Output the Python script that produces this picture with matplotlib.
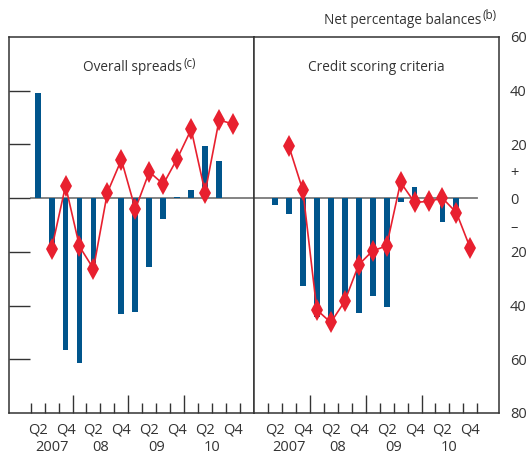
import numpy as np
import matplotlib
matplotlib.use("Agg")
import matplotlib.pyplot as plt
from matplotlib.ticker import FixedLocator

plt.rcParams['font.family'] = ['Open Sans', 'DejaVu Sans']

# Quarters Q2 2007 .. Q4 2010
quarters = ['Q2', 'Q3', 'Q4', 'Q1', 'Q2', 'Q3', 'Q4', 'Q1', 'Q2', 'Q3', 'Q4',
            'Q1', 'Q2', 'Q3', 'Q4']
years = ['2007', '08', '09', '10']
year_centres = [1, 4.5, 8.5, 12.5]

# Overall spreads
spreads_bars = [39, -17, -56.5, -61.5, -24, 0, -43, -42.5, -25.5, -7.7, 0.4,
                3, 19.5, 13.7, np.nan]
spreads_line = [np.nan, -19, 4.6, -18, -26.3, 2.1, 14.3, -4.1, 9.8, 5.2, 14.7,
                25.6, 2.1, 29.1, 27.6]

# Credit scoring criteria
scoring_bars = [-2.5, -5.9, -32.6, -44.4, -47.5, -37.5, -42.6, -36.3, -40.7,
                -1.5, 4, 0, -8.9, -7.4, np.nan]
scoring_line = [np.nan, 19.3, 2.9, -41.6, -46.3, -38.4, -24.8, -19.6, -17.8,
                5.9, -1.6, -1.2, 0, -5.4, -18.7]

BLUE = '#00558c'
RED = '#e8202f'
DARK = '#333333'
GREY = '#7a7a7a'
FS = 10.5
TFS = 9.8


def sup_text(ax, main, sup, x, y, transform, ha):
    """Main text with a superscript note appended to its right."""
    t = ax.text(x, y, main, transform=transform, ha=ha, va='center',
                fontsize=TFS, color=DARK)
    ax.annotate(sup, xy=(1, 0.8), xycoords=t, xytext=(1, 0),
                textcoords='offset points', ha='left', va='center',
                fontsize=TFS * 0.85, color=DARK)
    return t


fig = plt.figure(figsize=(5.27, 4.57), dpi=100)
ax1 = fig.add_axes([9 / 527, 1 - 413 / 457, 245 / 527, 376 / 457])
ax2 = fig.add_axes([254 / 527, 1 - 413 / 457, 245 / 527, 376 / 457])

x = np.arange(len(quarters))

panels = [
    (ax1, spreads_bars, spreads_line, (-2.05, 15.5)),
    (ax2, scoring_bars, scoring_line, (-1.5, 16.05)),
]

for ax, bars, line, xlim in panels:
    ax.set_xlim(*xlim)
    ax.set_ylim(-80, 60)
    ax.bar(x, bars, width=0.42, color=BLUE, zorder=2)
    ax.plot(x, line, color=RED, lw=1.2, marker='d', ms=11, mew=0, zorder=3)
    for sp in ax.spines.values():
        sp.set_color(DARK)
        sp.set_linewidth(1.1)
    # x ticks
    ax.xaxis.set_major_locator(FixedLocator([2.5, 6.5, 10.5]))
    ax.xaxis.set_minor_locator(FixedLocator(np.arange(-0.5, 15, 1.0)))
    ax.tick_params(axis='x', which='major', direction='in', length=13,
                   width=1, color=DARK, labelbottom=False)
    ax.tick_params(axis='x', which='minor', direction='in', length=7,
                   width=1, color=DARK)
    for i in range(0, len(quarters), 2):
        ax.text(i, -0.045, quarters[i], transform=ax.get_xaxis_transform(),
                ha='center', va='center', fontsize=FS, color=DARK)
    for yr, xc in zip(years, year_centres):
        ax.text(xc, -0.093, yr, transform=ax.get_xaxis_transform(),
                ha='center', va='center', fontsize=FS, color=DARK)

sup_text(ax1, 'Overall spreads', '(c)', 0.505, 0.918, ax1.transAxes, 'center')
ax2.text(0.5, 0.918, 'Credit scoring criteria', transform=ax2.transAxes,
         ha='center', va='center', fontsize=TFS, color=DARK)

# zero lines
ax1.plot([-0.5, 15.5], [0, 0], color=GREY, lw=1.3, zorder=1)
ax2.plot([-1.5, 14.5], [0, 0], color=GREY, lw=1.3, zorder=1)

tick_marks = [40, 20, 0, -20, -40, -60]

# left panel: inward marks only
ax1.yaxis.set_major_locator(FixedLocator(tick_marks))
ax1.tick_params(axis='y', direction='in', length=15, width=1, color=DARK,
                labelleft=False, left=True, right=False)

# right panel: labels on right side, marks inward
label_pos = [60, 40, 20, 10, 0, -10, -20, -40, -60, -80]
label_txt = ['60', '40', '20', '+', '0', '\u2013', '20', '40', '60', '80']
ax2.yaxis.set_major_locator(FixedLocator(label_pos))
ax2.yaxis.set_ticklabels(label_txt)
ax2.yaxis.set_minor_locator(FixedLocator(tick_marks))
ax2.tick_params(axis='y', which='major', length=0, left=False, right=True,
                labelleft=False, labelright=True, labelsize=FS,
                labelcolor=DARK, pad=8)
ax2.tick_params(axis='y', which='minor', direction='in', length=13, width=1,
                color=DARK, left=False, right=True)

sup_text(ax2, 'Net percentage balances', '(b)', 481 / 527, 1 - 20 / 457,
         fig.transFigure, 'right')

fig.savefig('out.png', dpi=100)
